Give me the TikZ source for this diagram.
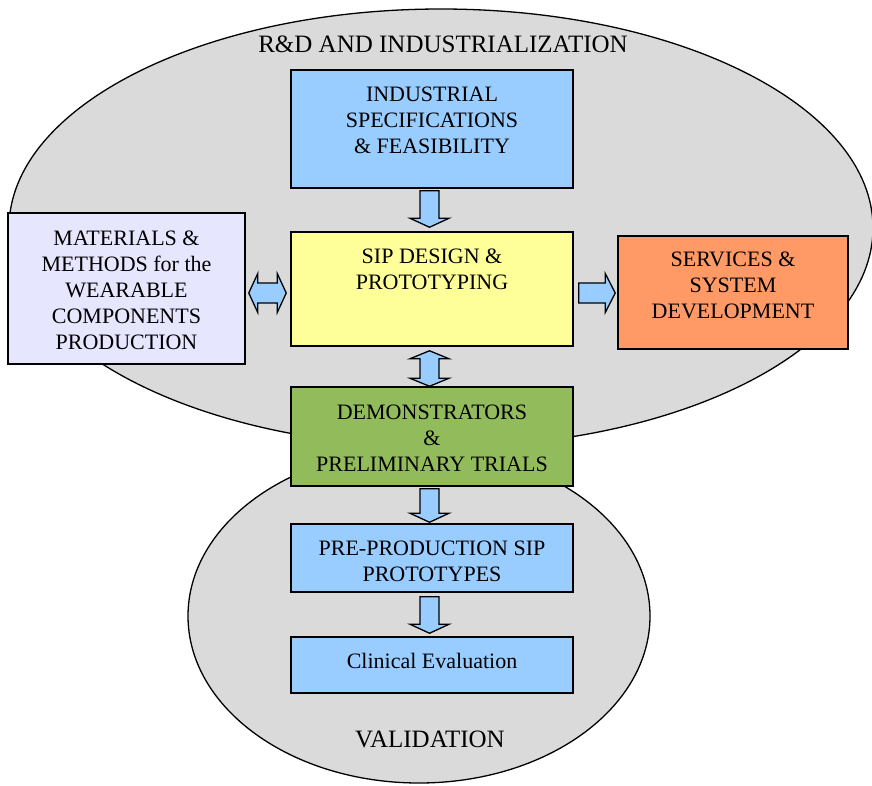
\documentclass[tikz,border=0pt]{standalone}
\usepackage{fontspec}
\setmainfont{Liberation Serif}
\usetikzlibrary{calc}
\definecolor{ellgray}{RGB}{218,218,218}
\definecolor{boxblue}{RGB}{153,204,255}
\definecolor{boxyellow}{RGB}{255,255,153}
\definecolor{boxlav}{RGB}{230,230,255}
\definecolor{boxorange}{RGB}{255,153,102}
\definecolor{boxgreen}{RGB}{146,188,92}
\newcommand\txtlines[1]{\begin{tabular}[t]{@{}c@{}}#1\end{tabular}}
% vertical single block arrow: from, to, top gap, tip gap
\newcommand\blkdown[4]{%
 \draw[blk] let \p1=($(#1.south)+(-2.5,0)$), \p2=(#2.north) in
  (\x1-9.5pt,\y1-#3pt) -- (\x1+9.5pt,\y1-#3pt) -- (\x1+9.5pt,\y2+#4pt+9pt) -- (\x1+19.5pt,\y2+#4pt+9pt)
  -- (\x1,\y2+#4pt) -- (\x1-19.5pt,\y2+#4pt+9pt) -- (\x1-9.5pt,\y2+#4pt+9pt) -- cycle;}
% vertical double block arrow
\newcommand\blkupdown[4]{%
 \draw[blk] let \p1=($(#1.south)+(-2.5,0)$), \p2=(#2.north) in
  (\x1,\y1-#3pt) -- (\x1+19.5pt,\y1-#3pt-8pt) -- (\x1+9.5pt,\y1-#3pt-8pt) -- (\x1+9.5pt,\y2+#4pt+8pt)
  -- (\x1+19.5pt,\y2+#4pt+8pt) -- (\x1,\y2+#4pt) -- (\x1-19.5pt,\y2+#4pt+8pt) -- (\x1-9.5pt,\y2+#4pt+8pt)
  -- (\x1-9.5pt,\y1-#3pt-8pt) -- (\x1-19.5pt,\y1-#3pt-8pt) -- cycle;}
% horizontal double block arrow
\newcommand\blkleftright[4]{%
 \draw[blk] let \p1=(#1.east), \p2=($(#2.west)+(0,4)$) in
  (\x1+#3pt,\y2) -- (\x1+#3pt+9pt,\y2+19.5pt) -- (\x1+#3pt+9pt,\y2+10pt) -- (\x2-#4pt-9pt,\y2+10pt)
  -- (\x2-#4pt-9pt,\y2+19.5pt) -- (\x2-#4pt,\y2) -- (\x2-#4pt-9pt,\y2-19.5pt) -- (\x2-#4pt-9pt,\y2-10pt)
  -- (\x1+#3pt+9pt,\y2-10pt) -- (\x1+#3pt+9pt,\y2-19.5pt) -- cycle;}
% horizontal single block arrow
\newcommand\blkright[4]{%
 \draw[blk] let \p1=($(#1.east)+(0,4)$), \p2=(#2.west) in
  (\x1+#3pt,\y1+10pt) -- (\x2-#4pt-10pt,\y1+10pt) -- (\x2-#4pt-10pt,\y1+19.5pt) -- (\x2-#4pt,\y1)
  -- (\x2-#4pt-10pt,\y1-19.5pt) -- (\x2-#4pt-10pt,\y1-10pt) -- (\x1+#3pt,\y1-10pt) -- cycle;}
\begin{document}
\begin{tikzpicture}[x=1pt,y=-1pt,
  zone/.style={fill=ellgray,draw=black,line width=1.3pt},
  box/.style={draw=black,line width=1.5pt,inner sep=0pt,rectangle},
  lbl/.style={anchor=base,inner sep=0pt,font=\fontsize{22}{26}\selectfont},
  zonelbl/.style={anchor=base,inner sep=0pt,font=\fontsize{25}{29}\selectfont},
  blk/.style={fill=boxblue,draw=black,line width=1.3pt,line join=miter}]
\useasboundingbox (0,0) rectangle (872,785);
\fill[white] (0,0) rectangle (872,785);
% zones
\draw[zone] (419,616) ellipse [x radius=231pt, y radius=167pt];
\draw[zone] (441,228) ellipse [x radius=432pt, y radius=219pt];
% boxes
\node[box,fill=boxblue,minimum width=282pt,minimum height=118pt] (ind) at (432,129) {};
\node[box,fill=boxyellow,minimum width=282pt,minimum height=114pt] (sip) at (432,289) {};
\node[box,fill=boxlav,minimum width=237pt,minimum height=151pt] (mat) at (126.5,288.5) {};
\node[box,fill=boxorange,minimum width=230pt,minimum height=113pt] (srv) at (733,292.5) {};
\node[box,fill=boxgreen,minimum width=282pt,minimum height=99pt] (demo) at (432,436.5) {};
\node[box,fill=boxblue,minimum width=282pt,minimum height=68pt] (pre) at (432,558) {};
\node[box,fill=boxblue,minimum width=282pt,minimum height=56pt] (clin) at (432,665) {};
% arrows
\blkdown{ind}{sip}{2}{4}
\blkupdown{sip}{demo}{4}{0}
\blkleftright{mat}{sip}{3}{4}
\blkright{sip}{srv}{5}{2}
\blkdown{demo}{pre}{2}{1}
\blkdown{pre}{clin}{4}{3}
% labels
\node[zonelbl] (rdt) at (443,52.3) {R\&D AND INDUSTRIALIZATION};
\node[zonelbl] (valt) at (430,747) {VALIDATION};
\node[lbl] (indt) at (432,101.5) {\txtlines{INDUSTRIAL\\SPECIFICATIONS\\\& FEASIBILITY}};
\node[lbl] (sipt) at (432,263.3) {\txtlines{SIP DESIGN \&\\PROTOTYPING}};
\node[lbl] (matt) at (126.5,245.7) {\txtlines{MATERIALS \&\\METHODS for the\\WEARABLE\\COMPONENTS\\PRODUCTION}};
\node[lbl] (srvt) at (733,266.7) {\txtlines{SERVICES \&\\SYSTEM\\DEVELOPMENT}};
\node[lbl] (demot) at (432,419.3) {\txtlines{DEMONSTRATORS\\\&\\PRELIMINARY TRIALS}};
\node[lbl] (pret) at (432,555) {\txtlines{PRE-PRODUCTION SIP\\PROTOTYPES}};
\node[lbl] (clint) at (432,668.3) {Clinical Evaluation};
\end{tikzpicture}
\end{document}
